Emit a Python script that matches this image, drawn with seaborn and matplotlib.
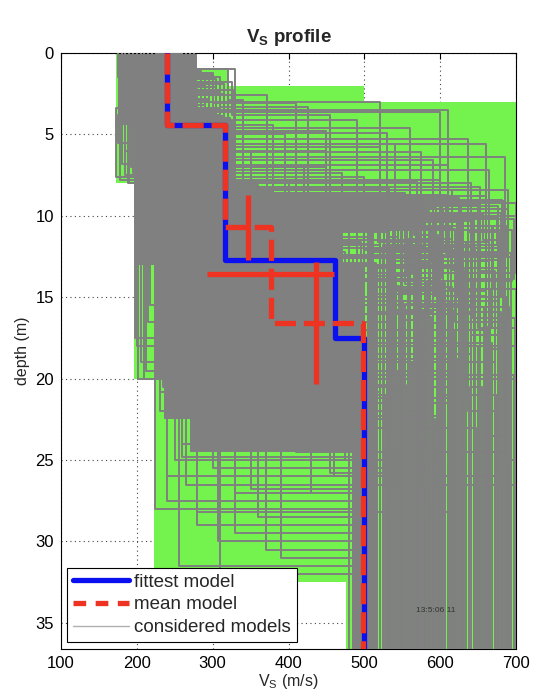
import numpy as np
import pandas as pd
import matplotlib
matplotlib.use("Agg")
import matplotlib.pyplot as plt
from matplotlib.lines import Line2D
import seaborn as sns

# ---------------- data ----------------
# search space (green): depth intervals and Vs bounds
green_top = [0.0, 1.0, 2.0, 3.0, 8.0, 20.0, 32.5]
green_bottom = [1.0, 2.0, 3.0, 8.0, 20.0, 32.5, 36.6]
green_left = [172, 172, 172, 172, 196, 222, 476]
green_right = [280, 320, 500, 700, 700, 700, 700]

# dense overlap of considered models (solid grey core)
core_top = [0.0, 4.4, 8.0, 11.0, 13.0, 20.0, 22.5, 24.5]
core_bottom = [4.4, 8.0, 11.0, 13.0, 20.0, 22.5, 24.5, 36.6]
core_left = [175, 197, 197, 197, 222, 236, 270, 484]
core_right = [280, 322, 330, 470, 500, 500, 500, 506]

# considered models: vs1, z1, vs2, z2, vs3, z3, vs_halfspace
models = [
    (250, 1.2, 300, 2.6, 372, 14.0, 560), (230, 1.5, 310, 3.3, 426, 16.0, 600),
    (260, 2.0, 290, 4.1, 490, 18.5, 640), (210, 2.5, 315, 5.3, 637, 22.0, 690),
    (240, 3.0, 300, 6.4, 686, 25.0, 700), (270, 1.8, 325, 3.8, 455, 12.5, 520),
    (220, 2.2, 280, 4.6, 560, 15.5, 610), (255, 3.5, 305, 5.0, 395, 11.5, 505),
    (200, 1.0, 320, 2.9, 340, 13.0, 580), (245, 2.8, 270, 5.8, 520, 17.0, 665),
    (235, 3.9, 260, 6.9, 610, 19.5, 545), (265, 4.2, 300, 7.4, 470, 13.5, 630),
    (215, 1.6, 295, 3.6, 600, 21.0, 675), (275, 2.4, 310, 4.9, 530, 14.5, 590),
    (225, 3.2, 285, 6.1, 575, 18.0, 700), (250, 2.6, 320, 5.6, 660, 23.5, 690),
    (205, 1.3, 300, 3.1, 410, 15.0, 540), (260, 3.7, 290, 8.0, 640, 20.5, 655),
    (240, 4.4, 316, 12.7, 461, 17.5, 500), (230, 4.0, 300, 10.0, 400, 16.0, 520),
    (250, 4.5, 320, 11.0, 480, 19.0, 610), (245, 3.8, 310, 9.5, 520, 14.0, 570),
    (235, 4.2, 325, 12.0, 430, 15.5, 495), (255, 4.6, 305, 10.5, 550, 18.0, 650),
    (220, 3.5, 290, 9.0, 450, 13.5, 480), (260, 4.8, 315, 11.5, 590, 20.0, 700),
    (240, 4.1, 300, 8.5, 380, 12.0, 535), (225, 3.6, 320, 13.0, 500, 21.5, 620),
    (250, 4.3, 310, 10.8, 620, 16.5, 685), (235, 4.0, 295, 12.5, 540, 24.0, 585),
    (245, 4.4, 325, 9.8, 680, 15.0, 660), (230, 3.9, 305, 11.2, 470, 19.5, 550),
    (180, 2.0, 190, 8.0, 224, 28.0, 485), (190, 3.0, 210, 9.5, 240, 26.0, 490),
    (200, 2.5, 230, 10.0, 260, 24.0, 485), (185, 3.5, 220, 12.0, 307, 30.0, 488),
    (210, 4.0, 250, 13.0, 280, 29.0, 495), (195, 3.2, 200, 11.0, 230, 22.0, 520),
    (215, 2.8, 240, 14.0, 330, 27.0, 485), (175, 1.5, 185, 7.5, 250, 25.0, 600),
    (205, 3.8, 260, 15.0, 360, 28.5, 487), (190, 2.2, 215, 10.5, 290, 23.0, 545),
    (180, 3.0, 195, 6.5, 235, 20.5, 630), (220, 4.2, 270, 16.0, 390, 31.0, 490),
    (200, 3.4, 225, 9.0, 310, 32.0, 500), (185, 2.6, 205, 7.0, 265, 26.5, 700),
    (195, 3.0, 205, 8.5, 200, 18.0, 560), (200, 3.6, 215, 10.0, 210, 20.0, 650),
    (180, 2.4, 200, 9.0, 215, 16.5, 530), (210, 4.0, 230, 12.5, 205, 19.0, 610),
    (190, 3.5, 178, 7.8, 300, 14.0, 580), (200, 3.3, 185, 6.0, 350, 15.0, 520),
    (185, 4.0, 192, 7.0, 420, 18.0, 505), (220, 3.8, 175, 5.5, 260, 17.0, 620),
    (200, 1.0, 330, 9.0, 500, 20.0, 550), (250, 1.4, 300, 7.0, 450, 16.0, 640),
    (270, 1.9, 315, 10.0, 580, 22.0, 515), (230, 1.2, 290, 8.0, 400, 12.0, 600),
    (240, 4.2, 312, 12.0, 470, 18.0, 512), (245, 4.5, 318, 13.5, 455, 21.0, 528),
    (235, 4.3, 308, 11.8, 490, 17.0, 548), (250, 4.0, 322, 12.8, 440, 19.0, 563),
    (238, 4.6, 315, 10.2, 510, 16.0, 577), (242, 3.9, 300, 11.4, 465, 22.5, 593),
    (248, 4.1, 311, 12.2, 475, 25.0, 607), (232, 4.4, 306, 13.2, 445, 18.8, 623),
    (255, 4.7, 319, 11.0, 530, 20.5, 638), (228, 4.2, 302, 12.6, 485, 23.0, 647),
    (244, 4.0, 314, 10.6, 505, 17.8, 668), (236, 4.5, 309, 12.4, 460, 26.0, 682),
    (241, 4.3, 317, 11.6, 495, 19.8, 697), (249, 4.1, 304, 12.9, 515, 21.8, 503),
    # fast third layers starting around 8-11 m
    (240, 4.2, 310, 9.2, 700, 12.5, 508), (235, 4.0, 305, 9.6, 690, 13.2, 517),
    (245, 4.4, 318, 10.1, 675, 11.8, 524), (250, 4.1, 312, 8.8, 660, 14.6, 533),
    (230, 3.8, 300, 9.9, 645, 12.2, 538), (238, 4.3, 322, 10.4, 630, 15.4, 553),
    (242, 4.6, 308, 8.4, 615, 11.4, 557), (248, 4.0, 316, 9.4, 602, 13.8, 567),
    (232, 4.2, 304, 10.7, 588, 12.9, 573), (254, 4.5, 320, 9.1, 572, 16.2, 588),
    (236, 3.9, 311, 10.0, 566, 11.2, 597), (244, 4.3, 306, 8.6, 553, 14.2, 603),
    (240, 4.7, 319, 9.7, 545, 12.0, 614), (228, 4.1, 301, 10.3, 538, 15.8, 617),
    (252, 4.2, 314, 8.9, 526, 13.0, 627), (246, 4.4, 309, 9.3, 518, 11.6, 634),
    (234, 4.0, 323, 10.9, 695, 14.0, 644), (258, 4.6, 307, 9.0, 682, 12.7, 652),
    (239, 4.2, 315, 10.6, 668, 16.8, 662), (243, 3.7, 302, 8.2, 652, 13.4, 672),
    (251, 4.5, 321, 9.8, 637, 11.0, 678), (237, 4.1, 313, 10.2, 622, 15.0, 688),
    (229, 4.3, 299, 8.7, 608, 12.3, 694), (247, 4.0, 317, 9.5, 594, 14.8, 510),
    (253, 4.4, 310, 10.5, 579, 11.9, 526), (233, 4.6, 305, 9.0, 563, 13.6, 542),
    (241, 4.2, 320, 10.8, 548, 16.4, 574), (249, 3.9, 303, 8.3, 533, 12.6, 596),
    (237, 4.5, 316, 9.6, 512, 14.4, 616), (245, 4.0, 308, 10.4, 586, 15.6, 658),
    (240, 4.3, 314, 10.0, 700, 13.5, 521), (236, 4.1, 306, 10.6, 688, 12.4, 536),
    (246, 4.5, 318, 9.4, 676, 15.2, 551), (232, 4.0, 302, 10.9, 664, 11.6, 569),
    (250, 4.2, 320, 9.9, 652, 14.0, 583), (242, 4.4, 310, 10.3, 641, 12.8, 599),
    (238, 3.9, 304, 9.2, 628, 16.0, 611), (248, 4.6, 316, 10.7, 616, 13.3, 631),
    (234, 4.2, 308, 9.6, 604, 11.9, 646), (252, 4.0, 322, 10.1, 592, 14.9, 661),
    (240, 4.4, 312, 9.8, 580, 12.2, 676), (244, 4.1, 300, 10.5, 568, 15.6, 691),
    (236, 4.5, 315, 9.5, 556, 13.7, 507), (248, 4.3, 319, 10.8, 544, 11.3, 531),
    (230, 4.0, 305, 9.3, 532, 14.3, 546), (254, 4.2, 311, 10.4, 520, 12.6, 571),
    (242, 4.6, 317, 9.7, 508, 15.9, 591), (238, 4.1, 303, 10.2, 698, 13.9, 621),
    (246, 4.4, 321, 9.1, 684, 12.0, 641), (232, 4.3, 309, 10.6, 670, 14.5, 666),
    (250, 3.9, 313, 9.9, 656, 11.5, 683), (244, 4.5, 307, 10.0, 642, 16.3, 699),
    (240, 4.2, 318, 9.4, 626, 13.1, 514), (236, 4.0, 310, 10.9, 612, 12.5, 604),
    # shallow second interfaces (upper right)
    (230, 1.8, 290, 3.0, 520, 13.0, 560), (250, 2.1, 305, 3.5, 610, 14.5, 700),
    (240, 2.6, 300, 4.4, 380, 12.4, 540), (220, 3.0, 285, 4.8, 450, 15.2, 612),
    (260, 3.4, 310, 5.6, 540, 12.8, 664), (235, 2.8, 295, 6.0, 350, 11.8, 520),
    (245, 3.6, 305, 6.6, 590, 16.6, 598), (255, 4.0, 315, 7.0, 420, 13.9, 575),
    (225, 3.2, 290, 7.2, 665, 18.2, 690), (265, 4.3, 320, 7.6, 500, 12.1, 625),
    (240, 3.9, 300, 7.9, 570, 14.7, 548), (250, 4.1, 310, 8.1, 360, 11.3, 505),
    (230, 3.5, 295, 8.4, 690, 17.3, 640), (245, 4.5, 318, 8.6, 440, 12.6, 585),
    (235, 4.2, 305, 8.9, 625, 15.9, 680), (255, 4.4, 312, 9.1, 470, 13.1, 532),
    (240, 3.8, 300, 9.3, 650, 16.9, 700), (250, 4.0, 316, 9.5, 510, 12.2, 565),
    (230, 4.3, 308, 9.7, 585, 14.1, 606), (245, 4.6, 322, 9.9, 395, 11.7, 512),
    # slow third layers reaching 20-32 m (lower left)
    (200, 3.0, 220, 9.0, 230, 20.8, 520), (210, 3.5, 235, 10.5, 250, 21.5, 486),
    (195, 2.8, 215, 11.5, 270, 22.3, 600), (205, 3.9, 245, 12.0, 290, 23.0, 489),
    (215, 4.2, 255, 13.5, 320, 21.2, 640), (190, 2.5, 210, 8.5, 340, 22.7, 492),
    (220, 4.0, 265, 12.8, 360, 20.4, 555), (200, 3.3, 230, 10.0, 380, 23.8, 488),
    (210, 3.7, 250, 14.5, 410, 24.5, 690), (225, 4.4, 270, 11.0, 440, 22.0, 486),
    (195, 3.1, 225, 9.5, 260, 24.8, 487), (205, 3.6, 240, 13.0, 300, 25.5, 580),
    (215, 4.1, 260, 15.5, 350, 26.8, 489), (200, 2.9, 220, 10.8, 240, 27.5, 491),
    (210, 3.4, 235, 12.2, 330, 29.5, 486), (190, 2.7, 212, 9.8, 280, 28.2, 620),
    (220, 4.3, 268, 16.5, 430, 27.0, 488), (205, 3.8, 245, 14.0, 370, 30.5, 490),
    (200, 3.2, 228, 11.8, 255, 31.5, 486), (215, 4.0, 255, 12.6, 455, 25.8, 530),
    # slow layers on the left
    (190, 3.0, 200, 8.2, 198, 17.5, 575), (205, 3.4, 210, 9.4, 212, 19.5, 505),
    (185, 2.7, 198, 10.2, 218, 15.5, 640), (200, 3.9, 220, 11.6, 202, 20.0, 548),
    (195, 3.4, 172, 7.6, 330, 13.5, 600), (210, 3.9, 180, 6.8, 280, 15.5, 530),
    (190, 3.6, 188, 8.0, 240, 19.0, 672), (205, 4.1, 195, 7.4, 380, 16.0, 560),
    (180, 1.1, 285, 6.0, 450, 14.0, 520), (220, 1.6, 305, 8.2, 520, 17.5, 610),
    (260, 2.3, 328, 9.4, 400, 13.0, 580), (200, 2.9, 295, 7.8, 600, 19.0, 650),
]

# fittest and mean models (layer Vs and interface depths)
fit_vs = [240, 316, 461, 500]
fit_z = [4.4, 12.7, 17.5]
mean_vs = [240, 316, 377, 498]
mean_z = [4.4, 10.7, 16.6]

# mean model uncertainties
err_depth_x = [347, 436]          # Vs where depth error bars are drawn
err_depth_y = [10.7, 16.6]
err_depth_d = [2.0, 3.75]
err_vs_x = [376]                  # Vs error bar (layer 3)
err_vs_y = [13.6]
err_vs_d = [84]

z_max = 36.6

# ---------------- style ----------------
sns.set_theme(style="white")
plt.rcParams["font.family"] = ["Liberation Sans", "DejaVu Sans"]
plt.rcParams["mathtext.fontset"] = "custom"
plt.rcParams["mathtext.rm"] = "Liberation Sans"
plt.rcParams["mathtext.bf"] = "Liberation Sans:bold"

GREEN = "#74f24e"
GREY = "#808080"
BLUE = "#0a10f0"
RED = "#ee3322"

fig = plt.figure(figsize=(5.36, 7.0), dpi=100)
ax = fig.add_axes([0.1138, 0.0729, 0.8489, 0.8514])


def step_arrays(tops, bottoms, lefts, rights):
    y, xl, xr = [], [], []
    for t, b, l, r in zip(tops, bottoms, lefts, rights):
        y += [t, b]
        xl += [l, l]
        xr += [r, r]
    return y, xl, xr


y, xl, xr = step_arrays(green_top, green_bottom, green_left, green_right)
ax.fill_betweenx(y, xl, xr, color=GREEN, lw=0, zorder=1)
y, xl, xr = step_arrays(core_top, core_bottom, core_left, core_right)
ax.fill_betweenx(y, xl, xr, color=GREY, lw=0, zorder=2)


def profile(vs, z):
    xs, ys = [], []
    top = 0.0
    bounds = list(z) + [z_max]
    for v, b in zip(vs, bounds):
        xs += [v, v]
        ys += [top, b]
        top = b
    return xs, ys


rows = []
for i, m in enumerate(models):
    xs, ys = profile([m[0], m[2], m[4], m[6]], [m[1], m[3], m[5]])
    for k, (a, b) in enumerate(zip(xs, ys)):
        rows.append({"model": i, "order": k, "vs": a, "depth": b})
df = pd.DataFrame(rows)
sns.lineplot(data=df, x="vs", y="depth", units="model", estimator=None,
             sort=False, color=GREY, lw=1.4, ax=ax, zorder=3, legend=False)

fx, fy = profile(fit_vs, fit_z)
sns.lineplot(x=fx, y=fy, sort=False, estimator=None, color=BLUE, lw=3.8,
             ax=ax, zorder=5)
mx, my = profile(mean_vs, mean_z)
sns.lineplot(x=mx, y=my, sort=False, estimator=None, color=RED, lw=3.8,
             ax=ax, zorder=6)
ax.lines[-1].set_dashes((4.0, 1.5))

ax.errorbar(err_depth_x, err_depth_y, yerr=err_depth_d, fmt="none",
            ecolor=RED, elinewidth=3.8, capsize=0, zorder=7)
ax.errorbar(err_vs_x, err_vs_y, xerr=err_vs_d, fmt="none",
            ecolor=RED, elinewidth=3.8, capsize=0, zorder=7)

ax.text(0.78, 0.062, "13:5:06 11", transform=ax.transAxes, fontsize=6,
        color="#333333", zorder=8)

ax.set_xlim(100, 700)
ax.set_ylim(z_max, 0)
ax.set_xticks([100, 200, 300, 400, 500, 600, 700])
ax.set_yticks([0, 5, 10, 15, 20, 25, 30, 35])
ax.tick_params(direction="in", length=4, width=0.8, top=True, right=True,
               labelsize=12, colors="black", pad=5)
for s in ax.spines.values():
    s.set_color("black")
    s.set_linewidth(0.8)
ax.set_axisbelow(True)
ax.grid(True, linestyle=(0, (1, 3)), color="#444444", lw=0.8)

ax.set_xlabel(r"V$_\mathregular{S}$ (m/s)", fontsize=11.5, labelpad=1)
ax.set_ylabel("depth (m)", fontsize=11.5, labelpad=4)
ax.set_title(r"$\mathbf{V_S}$ profile", fontsize=13.5, fontweight="bold", pad=8)

handles = [
    Line2D([], [], color=BLUE, lw=3.8),
    Line2D([], [], color=RED, lw=3.8, dashes=(2.4, 1.8)),
    Line2D([], [], color="#b0b0b0", lw=1.0),
]
leg = ax.legend(handles, ["fittest model", "mean model", "considered models"],
                loc="lower left", bbox_to_anchor=(0.013, 0.012),
                borderaxespad=0, fontsize=13.5, handlelength=3.0,
                handletextpad=0.3, labelspacing=0.3, borderpad=0.3,
                frameon=True, fancybox=False, framealpha=1)
leg.get_frame().set_edgecolor("black")
leg.get_frame().set_linewidth(0.8)
leg.set_zorder(10)

fig.savefig("out.png", dpi=100)
